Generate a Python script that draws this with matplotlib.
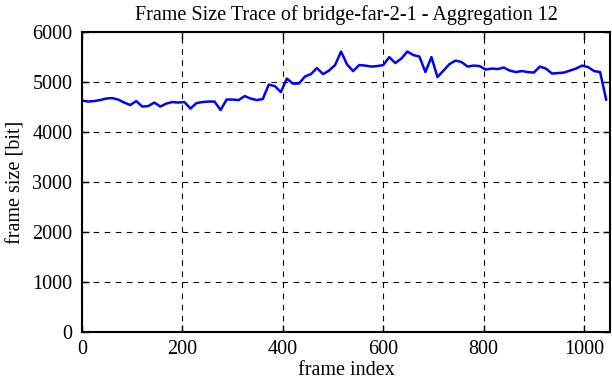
import numpy as np
import matplotlib
matplotlib.use('Agg')
import matplotlib.pyplot as plt

# aggregated frame sizes (12 frames per point)
frame_index = np.arange(0, 1045, 12)
frame_size = [4630, 4610, 4620, 4640, 4670, 4680, 4650, 4590, 4540, 4620,
              4510, 4520, 4590, 4510, 4570, 4600, 4590, 4600, 4470, 4580,
              4600, 4610, 4610, 4440, 4650, 4650, 4640, 4720, 4670, 4640,
              4660, 4950, 4920, 4800, 5070, 4970, 4970, 5110, 5160, 5280,
              5160, 5230, 5340, 5610, 5350, 5220, 5340, 5330, 5310, 5320,
              5340, 5500, 5380, 5470, 5610, 5540, 5510, 5200, 5500, 5100,
              5230, 5360, 5430, 5400, 5310, 5330, 5320, 5250, 5270, 5260,
              5290, 5230, 5200, 5220, 5200, 5190, 5310, 5270, 5170, 5180,
              5190, 5230, 5270, 5330, 5300, 5220, 5200, 4650]

xticks = [0, 200, 400, 600, 800, 1000]
yticks = [0, 1000, 2000, 3000, 4000, 5000, 6000]

plt.rcParams['font.family'] = 'Liberation Serif'
plt.rcParams['font.size'] = 14.5

fig = plt.figure(figsize=(6.12, 3.82), dpi=100)
ax = fig.add_axes([0.134, 0.131, 0.863, 0.785])

ax.plot(frame_index, frame_size, color='#0000ff', linewidth=1.8)

ax.set_xlim(0, 1052)
ax.set_ylim(0, 6000)
ax.set_xticks(xticks)
ax.set_yticks(yticks)
ax.grid(True, color='black', linestyle=(0, (5, 5)), linewidth=0.8)
ax.tick_params(direction='in', top=True, right=True, length=5, width=1)
ax.tick_params(axis='x', pad=6)
ax.tick_params(axis='y', pad=7)
for s in ax.spines.values():
    s.set_linewidth(1.5)

ax.set_title('Frame Size Trace of bridge-far-2-1 - Aggregation 12', fontsize=14.5, pad=9)
ax.set_xlabel('frame index', labelpad=1)
ax.set_ylabel('frame size [bit]', labelpad=5)

fig.savefig('out.png', dpi=100)
